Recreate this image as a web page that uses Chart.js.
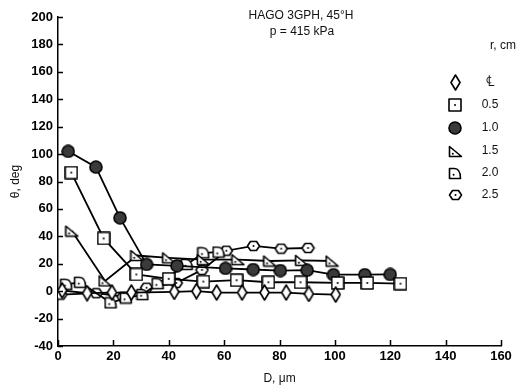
<!DOCTYPE html>
<html>
<head>
<meta charset="utf-8">
<script src="https://cdn.jsdelivr.net/npm/chart.js@4/dist/chart.umd.min.js"></script>
<style>
  html, body { margin: 0; padding: 0; background: #fff; }
  #wrap { width: 520px; height: 386px; position: relative; }
</style>
</head>
<body>
<div id="wrap"><canvas id="c" width="520" height="386"></canvas></div>
<script>
// Droplet diameter D (µm) and angle θ (deg) at each radial station r (cm)
const rLabels = ['\u2104', '0.5', '1.0', '1.5', '2.0', '2.5'];

const dCL   = [1.5, 10.5, 19.5, 26.5, 42, 50, 57.3, 66.5, 74.6, 82.4, 90.6, 100.3];
const thCL  = [0.5, -1.5, -1, -1, -0.5, 0, -1, -1, -1, -1, -2, -2.5];

const d05   = [4.8, 16.5, 28.3, 40, 52.5, 64.5, 76, 87.6, 101, 111.7, 123.7];
const th05  = [86.5, 38.5, 12.2, 9, 7, 8, 6.5, 6.5, 6, 6, 5.5];

const d10   = [3.7, 13.7, 22.4, 32, 43, 60.5, 70.5, 80.3, 90, 99.5, 110.8, 120];
const th10  = [102, 90.5, 53.5, 19.5, 18.5, 16.6, 15.8, 15, 15.3, 12, 12, 12.2];

const d15   = [5, 17, 28.5, 40, 52.5, 65, 76.5, 88, 99];
const th15  = [43.8, 7.5, 26, 24.3, 23, 23, 22, 22.5, 22];

const d20   = [3, 8, 19, 24.5, 30.5, 36, 46.5, 52.5, 58];
const th20  = [5, 6.5, -8.5, -5, -2.5, 5.5, 19.5, 28, 28.5];

const d25   = [1, 13.8, 23.5, 32, 42.7, 52, 60.8, 70.6, 80.6, 90.3];
const th25  = [-2.5, -1.5, -4, 2.5, 6, 15.5, 29.5, 33, 31, 31.5];

const xTicks = [0, 20, 40, 60, 80, 100, 120, 140, 160];
const yTicks = [-40, -20, 0, 20, 40, 60, 80, 100, 120, 140, 160, 180, 200];

const FONT = "'Liberation Sans', Arial, sans-serif";

// ---- marker glyphs drawn onto small canvases ----
function makeMarker(w, h, draw) {
  const cv = document.createElement('canvas');
  cv.width = w; cv.height = h;
  const g = cv.getContext('2d');
  g.lineWidth = 1.6;
  g.strokeStyle = '#000';
  g.fillStyle = '#fff';
  g.lineJoin = 'round';
  draw(g, w, h);
  return cv;
}
function dot(g, x, y) {
  g.fillStyle = '#000';
  g.beginPath(); g.arc(x, y, 1, 0, Math.PI * 2); g.fill();
}
const mkDiamond = makeMarker(11, 17, (g, w, h) => {
  g.beginPath();
  g.moveTo(w / 2, 1); g.lineTo(w - 1, h / 2); g.lineTo(w / 2, h - 1); g.lineTo(1, h / 2);
  g.closePath(); g.fill(); g.stroke();
});
const mkSquare = makeMarker(14, 14, (g, w, h) => {
  g.fillRect(1, 1, w - 2, h - 2); g.strokeRect(1, 1, w - 2, h - 2);
  dot(g, w / 2, h / 2);
});
const mkCircle = makeMarker(14, 14, (g, w, h) => {
  g.fillStyle = '#3a3a3a';
  g.beginPath(); g.arc(w / 2, h / 2, w / 2 - 1, 0, Math.PI * 2); g.fill(); g.stroke();
});
const mkTri = makeMarker(15, 13, (g, w, h) => {
  g.beginPath();
  g.moveTo(1.5, 1.5); g.lineTo(w - 1.5, h - 1.5); g.lineTo(1.5, h - 1.5);
  g.closePath(); g.fill(); g.stroke();
  dot(g, w * 0.32, h * 0.68);
});
const mkD = makeMarker(14, 13, (g, w, h) => {
  g.beginPath();
  g.moveTo(1.5, h - 1.5); g.lineTo(1.5, 1.5); g.lineTo(w * 0.45, 1.5);
  g.quadraticCurveTo(w - 1.5, 1.5, w - 1.5, h - 1.5);
  g.closePath(); g.fill(); g.stroke();
  dot(g, w * 0.4, h * 0.6);
});
const mkHex = makeMarker(15, 12, (g, w, h) => {
  g.beginPath();
  g.moveTo(1.5, h / 2); g.lineTo(w * 0.3, 1.5); g.lineTo(w * 0.7, 1.5);
  g.lineTo(w - 1.5, h / 2); g.lineTo(w * 0.7, h - 1.5); g.lineTo(w * 0.3, h - 1.5);
  g.closePath(); g.fill(); g.stroke();
  dot(g, w / 2, h / 2);
});
const markers = [mkDiamond, mkSquare, mkCircle, mkTri, mkD, mkHex];

function pts(xs, ys) { return xs.map((x, i) => ({ x: x, y: ys[i] })); }
const seriesD  = [dCL, d05, d10, d15, d20, d25];
const seriesTh = [thCL, th05, th10, th15, th20, th25];

const datasets = seriesD.map((xs, i) => ({
  label: rLabels[i],
  data: pts(xs, seriesTh[i]),
  borderColor: '#000',
  backgroundColor: '#fff',
  borderWidth: 1.8,
  showLine: true,
  tension: 0,
  pointStyle: markers[i],
  pointRadius: 6,
  pointHoverRadius: 6
}));

// inward tick marks, annotation text and the symbol key
const decor = {
  id: 'decor',
  afterDraw(chart) {
    const ctx = chart.ctx;
    const xs = chart.scales.x, ys = chart.scales.y;
    const a = chart.chartArea;
    ctx.save();
    ctx.strokeStyle = '#000';
    ctx.lineWidth = 1.5;
    ctx.beginPath();
    yTicks.forEach(v => {
      const y = Math.round(ys.getPixelForValue(v)) + 0.5;
      ctx.moveTo(a.left, y); ctx.lineTo(a.left + 5, y);
    });
    xTicks.forEach(v => {
      const x = Math.round(xs.getPixelForValue(v)) + 0.5;
      ctx.moveTo(x, a.bottom); ctx.lineTo(x, a.bottom - 6);
    });
    ctx.stroke();

    ctx.fillStyle = '#111';
    ctx.textAlign = 'center';
    ctx.textBaseline = 'middle';
    ctx.font = '12px ' + FONT;
    ctx.fillText('HAGO 3GPH, 45\u00B0H', 301, 16);
    ctx.fillText('p = 415 kPa', 302, 32);
    ctx.fillText('r, cm', 503, 46);

    const keyY = [82, 105, 128, 151, 173, 195];
    markers.forEach((m, i) => {
      ctx.drawImage(m, Math.round(455 - m.width / 2), Math.round(keyY[i] - m.height / 2));
      ctx.fillStyle = '#111';
      ctx.font = (i === 0 ? '15px ' : '12px ') + FONT;
      ctx.fillText(rLabels[i], 490, keyY[i]);
    });
    ctx.restore();
  }
};

new Chart(document.getElementById('c'), {
  type: 'scatter',
  data: { datasets: datasets },
  plugins: [decor],
  options: {
    responsive: false,
    animation: false,
    devicePixelRatio: 1,
    layout: { padding: { left: 0, right: 19, top: 17, bottom: 0 } },
    plugins: { legend: { display: false }, tooltip: { enabled: false } },
    scales: {
      x: {
        type: 'linear', min: 0, max: 160,
        afterBuildTicks(s) { s.ticks = xTicks.map(v => ({ value: v })); },
        afterFit(s) { s.height = 40; },
        grid: { display: false, drawTicks: false },
        border: { display: true, color: '#000', width: 1.5 },
        ticks: { color: '#000', font: { family: FONT, size: 13, weight: 'bold' }, padding: 3 },
        title: { display: true, text: 'D, \u03BCm', color: '#111',
                 font: { family: FONT, size: 12 }, padding: { top: 0, bottom: 0 } }
      },
      y: {
        type: 'linear', min: -40, max: 200,
        afterBuildTicks(s) { s.ticks = yTicks.map(v => ({ value: v })); },
        afterFit(s) { s.width = 58; },
        grid: { display: false, drawTicks: false },
        border: { display: true, color: '#000', width: 1.5 },
        ticks: { color: '#000', font: { family: FONT, size: 13, weight: 'bold' }, padding: 5 },
        title: { display: true, text: '\u03B8, deg', color: '#111',
                 font: { family: FONT, size: 12 }, padding: { top: 8, bottom: 0 } }
      }
    }
  }
});
</script>
</body>
</html>
